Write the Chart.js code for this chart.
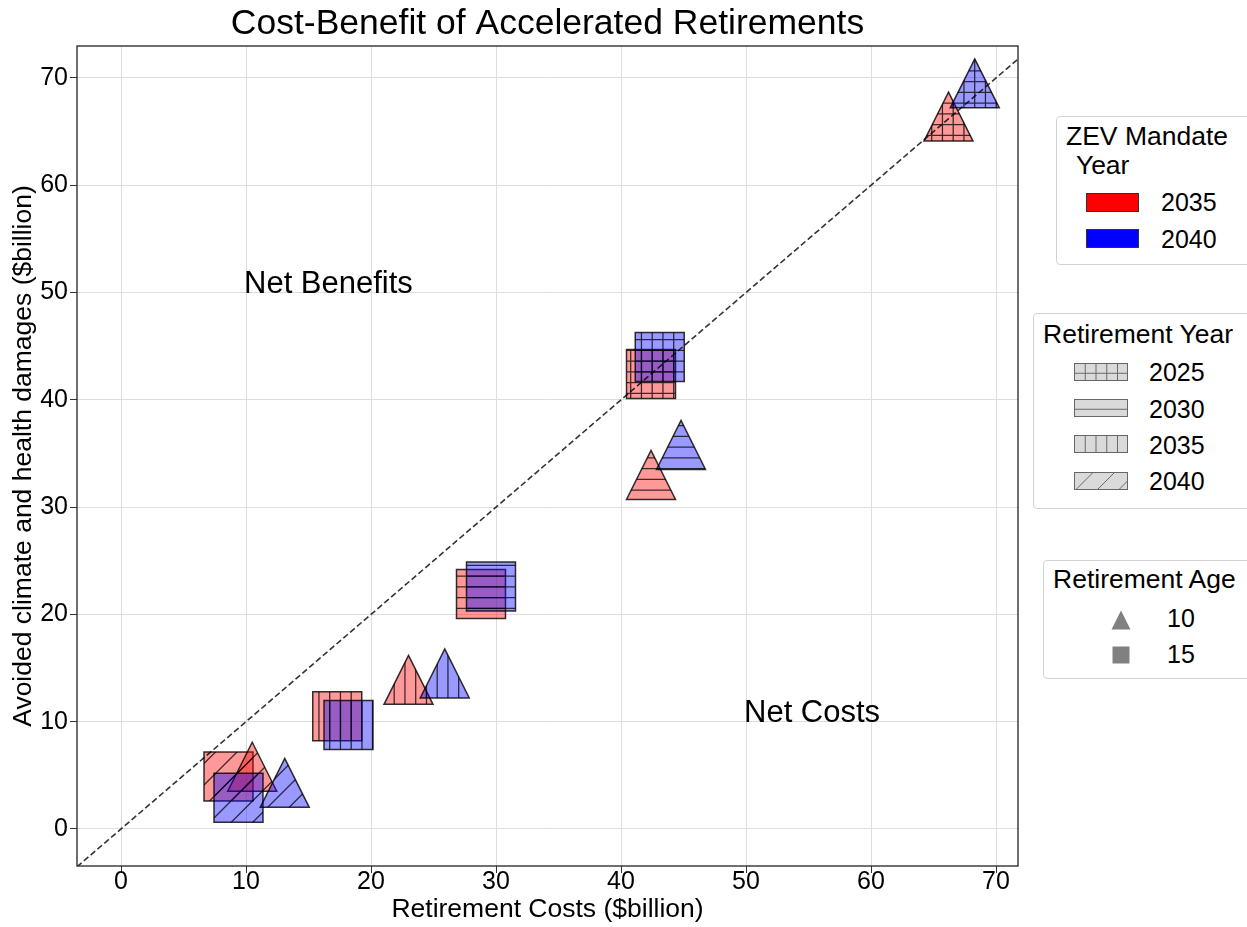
<!DOCTYPE html>
<html>
<head>
<meta charset="utf-8">
<script src="https://cdn.jsdelivr.net/npm/chart.js@4.4.1/dist/chart.umd.min.js"></script>
<style>
html,body{margin:0;padding:0;background:#fff;overflow:hidden;width:1247px;height:927px;}
#wrap{position:relative;width:1247px;height:927px;overflow:hidden;}
#c{position:absolute;left:0;top:0;}
.lg{position:absolute;border:1px solid #d2d2d2;border-radius:4px;background:#fff;box-sizing:border-box;}
.t{position:absolute;font-family:'Liberation Sans',Arial,Helvetica,sans-serif;font-size:25px;line-height:25px;color:#000;white-space:pre;}
.tt{position:absolute;font-family:'Liberation Sans',Arial,Helvetica,sans-serif;font-size:26.5px;line-height:26.5px;color:#000;white-space:pre;}
.sw{position:absolute;}
</style>
</head>
<body>
<div id="wrap">
<canvas id="c" width="1247" height="927"></canvas>

<div class="lg" style="left:1056px;top:116px;width:220px;height:149px;"></div>
<div class="tt" style="left:1066px;top:123px;">ZEV Mandate</div>
<div class="tt" style="left:1069px;top:151.5px;"> Year</div>
<canvas class="sw" id="zev0" width="55" height="21" style="left:1085px;top:192px;"></canvas>
<canvas class="sw" id="zev1" width="55" height="21" style="left:1085px;top:228px;"></canvas>
<div class="t" style="left:1161px;top:190px;">2035</div>
<div class="t" style="left:1161px;top:227px;">2040</div>

<div class="lg" style="left:1033px;top:313px;width:240px;height:196px;"></div>
<div class="tt" style="left:1043px;top:321px;">Retirement Year</div>
<canvas class="sw" id="ry0" width="56" height="20" style="left:1073px;top:362px;"></canvas>
<canvas class="sw" id="ry1" width="56" height="20" style="left:1073px;top:398px;"></canvas>
<canvas class="sw" id="ry2" width="56" height="20" style="left:1073px;top:434px;"></canvas>
<canvas class="sw" id="ry3" width="56" height="20" style="left:1073px;top:471px;"></canvas>
<div class="t" style="left:1149px;top:360px;">2025</div>
<div class="t" style="left:1149px;top:397px;">2030</div>
<div class="t" style="left:1149px;top:433px;">2035</div>
<div class="t" style="left:1149px;top:469px;">2040</div>

<div class="lg" style="left:1043px;top:560px;width:230px;height:119px;"></div>
<div class="tt" style="left:1053px;top:566px;">Retirement Age</div>
<canvas class="sw" id="age0" width="24" height="24" style="left:1109px;top:608px;"></canvas>
<canvas class="sw" id="age1" width="24" height="24" style="left:1109px;top:643px;"></canvas>
<div class="t" style="left:1167px;top:606px;">10</div>
<div class="t" style="left:1167px;top:642px;">15</div>
</div>

<script>
// ---------------- data ----------------
const X_MIN = -3.52, X_MAX = 71.76;
const Y_MIN = -3.45, Y_MAX = 72.98;
const xTicks = [0, 10, 20, 30, 40, 50, 60, 70];
const xTickLabels = ['0', '10', '20', '30', '40', '50', '60', '70'];
const yTicks = [0, 10, 20, 30, 40, 50, 60, 70];
const yTickLabels = ['0', '10', '20', '30', '40', '50', '60', '70'];

const retirementYears = ['2025', '2030', '2035', '2040'];
const retirementHatches = ['+', '-', '|', '/'];
const zevYears = ['2035', '2040'];
const retirementAges = ['10', '15'];

// values indexed by retirement year (2025, 2030, 2035, 2040)
const cost_zev2035_age10    = [66.2, 42.4, 23.0, 10.5];
const benefit_zev2035_age10 = [66.4, 33.0, 13.9, 5.8];
const cost_zev2040_age10    = [68.3, 44.8, 25.9, 13.1];
const benefit_zev2040_age10 = [69.5, 35.8, 14.5, 4.3];
const cost_zev2035_age15    = [42.4, 28.8, 17.3, 8.6];
const benefit_zev2035_age15 = [42.4, 21.9, 10.5, 4.9];
const cost_zev2040_age15    = [43.1, 29.6, 18.2, 9.4];
const benefit_zev2040_age15 = [44.0, 22.6, 9.7, 2.9];

const annotationTexts = ['Net Benefits', 'Net Costs'];
const annotationX = [10, 50];
const annotationY = [50, 10];

// ---------------- styles ----------------
const FONT = "'Liberation Sans', Arial, Helvetica, sans-serif";
const zevFill = ['rgba(255,0,0,0.4)', 'rgba(0,0,255,0.4)'];
const zevSolid = ['#ff0000', '#0000ff'];
const HS = 10.75, HOX = 7.2, HOY = 6.3, HDS = 21.5, HOC = 0;

function shapePath(ctx, shape, x, y, h) {
  ctx.beginPath();
  if (shape === 'triangle') {
    ctx.moveTo(x, y - h); ctx.lineTo(x + h, y + h); ctx.lineTo(x - h, y + h); ctx.closePath();
  } else {
    ctx.rect(x - h, y - h, 2 * h, 2 * h);
  }
}
function hatch(ctx, type, x0, y0, x1, y1, s, ox, oy, ds, oc) {
  ctx.beginPath();
  if (type === '|' || type === '+') {
    for (let x = Math.ceil((x0 - ox) / s) * s + ox; x <= x1; x += s) { ctx.moveTo(x, y0); ctx.lineTo(x, y1); }
  }
  if (type === '-' || type === '+') {
    for (let y = Math.ceil((y0 - oy) / s) * s + oy; y <= y1; y += s) { ctx.moveTo(x0, y); ctx.lineTo(x1, y); }
  }
  if (type === '/') {
    for (let c = Math.ceil((x0 + y0 - oc) / ds) * ds + oc; c <= x1 + y1; c += ds) { ctx.moveTo(x0, c - x0); ctx.lineTo(x1, c - x1); }
  }
  ctx.stroke();
}

function pts(cost, ben) { return cost.map((c, i) => ({ x: c, y: ben[i] })); }

const datasets = [
  { type: 'line', label: 'parity', data: [{ x: X_MIN, y: X_MIN }, { x: X_MAX, y: X_MAX }],
    showLine: true, borderColor: 'rgba(0,0,0,0.8)', borderWidth: 1.6, borderDash: [6, 3],
    pointRadius: 0, fill: false, order: 0 },
  { type: 'scatter', label: 'ZEV 2040, age 10', data: pts(cost_zev2040_age10, benefit_zev2040_age10),
    markerShape: 'triangle', markerFill: zevFill[1], hatches: retirementHatches, pointRadius: 24, order: 1 },
  { type: 'scatter', label: 'ZEV 2040, age 15', data: pts(cost_zev2040_age15, benefit_zev2040_age15),
    markerShape: 'square', markerFill: zevFill[1], hatches: retirementHatches, pointRadius: 24, order: 1 },
  { type: 'scatter', label: 'ZEV 2035, age 10', data: pts(cost_zev2035_age10, benefit_zev2035_age10),
    markerShape: 'triangle', markerFill: zevFill[0], hatches: retirementHatches, pointRadius: 24, order: 2 },
  { type: 'scatter', label: 'ZEV 2035, age 15', data: pts(cost_zev2035_age15, benefit_zev2035_age15),
    markerShape: 'square', markerFill: zevFill[0], hatches: retirementHatches, pointRadius: 24, order: 2 }
];

const markerPlugin = {
  id: 'hatchMarkers',
  beforeDatasetDraw(chart, args) {
    const ds = chart.data.datasets[args.index];
    if (!ds.markerShape) return;
    const ctx = chart.ctx, a = chart.chartArea, h = 24.5;
    ctx.save();
    ctx.beginPath(); ctx.rect(a.left, a.top, a.right - a.left, a.bottom - a.top); ctx.clip();
    args.meta.data.forEach((el, i) => {
      const x = el.x, y = el.y;
      shapePath(ctx, ds.markerShape, x, y, h);
      ctx.fillStyle = ds.markerFill; ctx.fill();
      ctx.save();
      ctx.clip();
      ctx.strokeStyle = 'rgba(0,0,0,0.75)'; ctx.lineWidth = 1.3;
      hatch(ctx, ds.hatches[i], x - h, y - h, x + h, y + h, HS, HOX, HOY, HDS, HOC);
      ctx.restore();
      shapePath(ctx, ds.markerShape, x, y, h);
      ctx.strokeStyle = 'rgba(0,0,0,0.8)'; ctx.lineWidth = 1.5; ctx.stroke();
    });
    ctx.restore();
    return false;
  }
};

const framePlugin = {
  id: 'frameAndText',
  afterDatasetsDraw(chart) {
    const ctx = chart.ctx, a = chart.chartArea;
    const xs = chart.scales.x, ys = chart.scales.y;
    ctx.save();
    ctx.fillStyle = '#000';
    ctx.font = '31px ' + FONT;
    ctx.textAlign = 'left'; ctx.textBaseline = 'alphabetic';
    annotationTexts.forEach((t, i) => {
      ctx.fillText(t, xs.getPixelForValue(annotationX[i]) - 2, ys.getPixelForValue(annotationY[i]));
    });
    ctx.strokeStyle = '#222'; ctx.lineWidth = 1.3;
    ctx.strokeRect(a.left, a.top, a.right - a.left, a.bottom - a.top);
    ctx.restore();
  }
};

Chart.defaults.font.family = FONT;
Chart.defaults.color = '#000';

new Chart(document.getElementById('c'), {
  type: 'scatter',
  data: { datasets },
  plugins: [markerPlugin, framePlugin],
  options: {
    responsive: false,
    animation: false,
    events: [],
    layout: { padding: { left: 0, right: 229, top: 0, bottom: 0 } },
    plugins: {
      legend: { display: false },
      tooltip: { enabled: false },
      title: {
        display: true, text: 'Cost-Benefit of Accelerated Retirements', fullSize: false,
        color: '#000', font: { family: FONT, size: 35.5, weight: 'normal', lineHeight: 1.2 },
        padding: { top: 3.4, bottom: 0 }
      }
    },
    scales: {
      x: {
        type: 'linear', min: X_MIN, max: X_MAX,
        afterBuildTicks: (s) => { s.ticks = xTicks.map(v => ({ value: v })); },
        afterFit: (s) => { s.height = 61; },
        grid: { color: '#dedede', lineWidth: 1, tickColor: '#333', tickLength: 7 },
        border: { display: false },
        ticks: { color: '#000', font: { size: 25, lineHeight: 1 }, padding: -3, autoSkip: false, maxRotation: 0,
          callback: (v) => xTickLabels[xTicks.indexOf(v)] },
        title: { display: true, text: 'Retirement Costs ($billion)', color: '#000',
          font: { size: 26.5, lineHeight: 1 }, padding: { top: 0, bottom: 4 } }
      },
      y: {
        type: 'linear', min: Y_MIN, max: Y_MAX,
        afterBuildTicks: (s) => { s.ticks = yTicks.map(v => ({ value: v })); },
        afterFit: (s) => { s.width = 77; },
        grid: { color: '#dedede', lineWidth: 1, tickColor: '#333', tickLength: 7 },
        border: { display: false },
        ticks: { color: '#000', font: { size: 25, lineHeight: 1 }, padding: 2, autoSkip: false,
          callback: (v) => yTickLabels[yTicks.indexOf(v)] },
        title: { display: true, text: 'Avoided climate and health damages ($billion)', color: '#000',
          font: { size: 26.5, lineHeight: 1 }, padding: { top: 10, bottom: 0 } }
      }
    }
  }
});

// ---------------- legend swatches ----------------
zevSolid.forEach((col, i) => {
  const c = document.getElementById('zev' + i).getContext('2d');
  c.fillStyle = col; c.fillRect(1, 1, 53, 19);
  c.strokeStyle = '#333'; c.lineWidth = 1; c.strokeRect(1.5, 1.5, 52, 18);
});
retirementHatches.forEach((hk, i) => {
  const cv = document.getElementById('ry' + i), c = cv.getContext('2d');
  c.fillStyle = '#dadada'; c.fillRect(1, 1, 54, 18);
  c.save(); c.beginPath(); c.rect(1, 1, 54, 18); c.clip();
  c.strokeStyle = '#6a6a6a'; c.lineWidth = 1;
  hatch(c, hk, 1, 1, 55, 19, HS, 1.5, 0.5, HDS, 21.5);
  c.restore();
  c.strokeStyle = '#666'; c.lineWidth = 1; c.strokeRect(1.5, 1.5, 53, 17);
});
(function () {
  const c0 = document.getElementById('age0').getContext('2d');
  c0.fillStyle = '#808080';
  shapePath(c0, 'triangle', 12, 12, 9.5); c0.fill();
  const c1 = document.getElementById('age1').getContext('2d');
  c1.fillStyle = '#808080';
  shapePath(c1, 'square', 12, 12, 8.5); c1.fill();
})();
</script>
</body>
</html>
